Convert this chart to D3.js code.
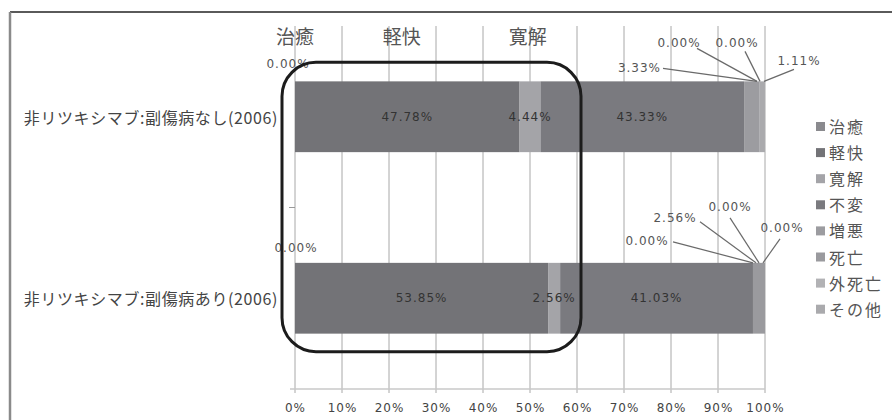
<!DOCTYPE html>
<html>
<head>
<meta charset="utf-8">
<script src="https://cdn.jsdelivr.net/npm/d3@7/dist/d3.min.js"></script>
<style>
  html, body { margin: 0; padding: 0; background: #fff; }
  svg { display: block; }
  .cat { font-family: "Noto Sans CJK JP", sans-serif; font-size: 16px; letter-spacing: 0.6px; fill: #444; }
  .pct { font-family: "DejaVu Sans", sans-serif; font-size: 12px; letter-spacing: 1px; }
  .tick-label { font-family: "DejaVu Sans", sans-serif; font-size: 12px; letter-spacing: 1px; fill: #444; }
  .legend-text { font-family: "Noto Sans CJK JP", sans-serif; font-size: 16px; letter-spacing: 2px; fill: #555; }
  .head { font-family: "Noto Sans CJK JP", sans-serif; font-size: 19px; fill: #555; }
</style>
</head>
<body>
<script>
// Outcome shares (%) per patient group
const categories = ["非リツキシマブ:副傷病なし(2006)", "非リツキシマブ:副傷病あり(2006)"];
const outcomes = ["治癒", "軽快", "寛解", "不変", "増悪", "死亡", "外死亡", "その他"];
const shareWithout = [0.00, 47.78, 4.44, 43.33, 3.33, 0.00, 0.00, 1.11];
const shareWith = [0.00, 53.85, 2.56, 41.03, 0.00, 2.56, 0.00, 0.00];
const xTicks = [0, 10, 20, 30, 40, 50, 60, 70, 80, 90, 100];
const headings = ["治癒", "軽快", "寛解"];
const headingAt = [0, 22.7, 49.5];

const colors = ["#8a8a8e", "#737377", "#a4a4a8", "#7a7a7f", "#9c9ca0", "#9a9a9e", "#b2b2b5", "#aaaaad"];

// Leader-line callout offsets for the small trailing segments (relative to bar end / bar top)
const calloutLayout = [
  [ // group without comorbidity
    {i: 4, tx: -104, ty: -9,  a: "end", l: [-102, -13, -8, 0]},
    {i: 5, tx: -86,  ty: -34, a: "middle", l: [-68, -33, -8, 0]},
    {i: 6, tx: -28,  ty: -34, a: "middle", l: [-20, -30, -5, 0]},
    {i: 7, tx: 34,   ty: -16, a: "middle", l: [29, -12, -1, 0]}
  ],
  [ // group with comorbidity
    {i: 4, tx: -118, ty: -18, a: "middle", l: [-92, -21, -12, 0]},
    {i: 5, tx: -90,  ty: -41, a: "middle", l: [-65, -41, -9, 0]},
    {i: 6, tx: -35,  ty: -52, a: "middle", l: [-35, -45, -6, 0]},
    {i: 7, tx: 17,   ty: -31, a: "middle", l: [15, -24, -2, 0]}
  ]
];
const firstLabelOffset = [{dx: -7, dy: -13}, {dx: 1, dy: -11}];

const W = 892, H = 420;
const svg = d3.select("body").append("svg").attr("width", W).attr("height", H);

// outer frame (top and left edges)
svg.append("line").attr("x1", 10).attr("y1", 12).attr("x2", W).attr("y2", 12)
  .attr("stroke", "#5a5a5a").attr("stroke-width", 2);
svg.append("line").attr("x1", 10).attr("y1", 12).attr("x2", 10).attr("y2", H)
  .attr("stroke", "#8a8a8a").attr("stroke-width", 2.5);

const plotTop = 26, plotBottom = 389;
const x = d3.scaleLinear().domain([0, 100]).range([295, 765]);
const y = d3.scaleBand().domain(categories).range([plotTop, plotBottom])
  .paddingInner(0.61).paddingOuter(0.305);

// gridlines
svg.append("g").selectAll("line").data(xTicks).join("line")
  .attr("x1", d => x(d)).attr("x2", d => x(d))
  .attr("y1", plotTop).attr("y2", plotBottom + 4)
  .attr("stroke", "#a8a8a8").attr("stroke-width", 1);

// bottom axis
const xAxis = d3.axisBottom(x).tickValues(xTicks).tickFormat(d => d + "%").tickSize(0).tickPadding(14);
const gx = svg.append("g").attr("transform", `translate(0,${plotBottom})`).call(xAxis);
gx.select(".domain").remove();
gx.selectAll("text").attr("class", "tick-label").attr("fill", null);
svg.append("line").attr("x1", x(0) - 5).attr("x2", x(100)).attr("y1", plotBottom).attr("y2", plotBottom)
  .attr("stroke", "#c8c8c8").attr("stroke-width", 1.5);

// category separator tick
svg.append("line").attr("x1", x(0) - 6).attr("x2", x(0))
  .attr("y1", y(categories[1]) - y.step() * y.paddingInner() / 2)
  .attr("y2", y(categories[1]) - y.step() * y.paddingInner() / 2)
  .attr("stroke", "#999").attr("stroke-width", 1);

// category labels
svg.append("g").selectAll("text").data(categories).join("text")
  .attr("class", "cat")
  .attr("x", x(0) - 17)
  .attr("y", d => y(d) + y.bandwidth() / 2)
  .attr("text-anchor", "end").attr("dominant-baseline", "central")
  .text(d => d);

// stacked segments
const groups = [shareWithout, shareWith];
groups.forEach((vals, gi) => {
  const cat = categories[gi];
  let acc = 0;
  const segs = vals.map((v, i) => { const s = {i, v, x0: acc, x1: acc + v}; acc += v; return s; });
  const g = svg.append("g");
  g.selectAll("rect").data(segs.filter(s => s.v > 0)).join("rect")
    .attr("x", s => x(s.x0)).attr("width", s => x(s.x1) - x(s.x0))
    .attr("y", y(cat)).attr("height", y.bandwidth())
    .attr("fill", s => colors[s.i]);

  // values inside the bar
  g.selectAll("text.in").data(segs.filter(s => s.i >= 1 && s.i <= 3)).join("text")
    .attr("class", "pct in")
    .attr("x", s => x((s.x0 + s.x1) / 2)).attr("y", y(cat) + y.bandwidth() / 2)
    .attr("text-anchor", "middle").attr("dominant-baseline", "central")
    .attr("fill", "#333")
    .text(s => s.v.toFixed(2) + "%");

  // first outcome label above the bar start
  const f = firstLabelOffset[gi];
  g.append("text").attr("class", "pct")
    .attr("x", x(segs[0].x0) + f.dx).attr("y", y(cat) + f.dy)
    .attr("text-anchor", "middle").attr("fill", "#555")
    .text(segs[0].v.toFixed(2) + "%");

  // callouts for trailing segments
  const ax = x(100), ay = y(cat);
  calloutLayout[gi].forEach(c => {
    g.append("line")
      .attr("x1", ax + c.l[0]).attr("y1", ay + c.l[1])
      .attr("x2", ax + c.l[2]).attr("y2", ay + c.l[3])
      .attr("stroke", "#6a6a6a").attr("stroke-width", 1.2);
    g.append("text").attr("class", "pct")
      .attr("x", ax + c.tx).attr("y", ay + c.ty)
      .attr("text-anchor", c.a).attr("fill", "#555")
      .text(segs[c.i].v.toFixed(2) + "%");
  });
});

// highlight annotation
svg.append("rect")
  .attr("x", x(0) - 13).attr("y", y(categories[0]) - 19)
  .attr("width", x(60) + 4 - (x(0) - 13))
  .attr("height", (y(categories[1]) + y.bandwidth() + 18) - (y(categories[0]) - 19))
  .attr("rx", 34).attr("ry", 34)
  .attr("fill", "none").attr("stroke", "#1c1c1c").attr("stroke-width", 3);

svg.append("g").selectAll("text").data(headings).join("text")
  .attr("class", "head")
  .attr("x", (d, i) => x(headingAt[i])).attr("y", 44)
  .attr("text-anchor", "middle")
  .text(d => d);

// legend
const lg = svg.append("g").attr("transform", "translate(816,125)");
const row = lg.selectAll("g").data(outcomes).join("g")
  .attr("transform", (d, i) => `translate(0,${i * 26.1})`);
row.append("rect").attr("x", 0).attr("y", -3).attr("width", 9).attr("height", 9)
  .attr("fill", (d, i) => colors[i]);
row.append("text").attr("class", "legend-text")
  .attr("x", 13).attr("y", 1).attr("dominant-baseline", "central")
  .text(d => d);
</script>
</body>
</html>
